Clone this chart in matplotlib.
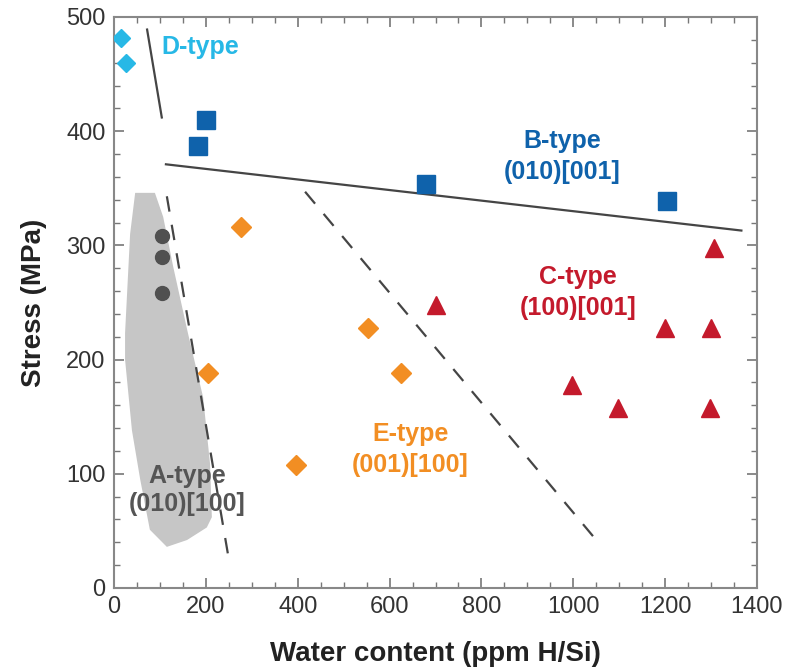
import matplotlib
matplotlib.use("Agg")
import matplotlib.pyplot as plt
from matplotlib.patches import Polygon
import matplotlib.ticker as mticker

plt.rcParams['font.family'] = ['Liberation Sans', 'DejaVu Sans']

# data
d_water  = [15, 26]
d_stress = [482, 460]
b_water  = [183, 200, 680, 1203]
b_stress = [387, 410, 354, 339]
a_water  = [105, 105, 105]
a_stress = [308, 290, 258]
e_water  = [205, 276, 396, 554, 625]
e_stress = [188, 316, 108, 228, 188]
c_water  = [700, 998, 1098, 1200, 1300, 1297, 1307]
c_stress = [248, 178, 158, 228, 228, 158, 298]

# boundary lines
b_line_x, b_line_y = [113, 1366], [371, 313]
d_line_x, d_line_y = [72, 104], [489, 412]
ae_line_x, ae_line_y = [115, 250], [343, 25]
ec_line_x, ec_line_y = [416, 1052], [347, 41]

# A-type field outline
a_field_x = [46, 89, 107, 129, 161, 194, 209, 213, 202, 159, 115, 78, 57, 39, 24, 24, 35]
a_field_y = [346, 346, 325, 281, 223, 167, 109, 62, 53, 42, 36, 51, 95, 138, 200, 223, 310]

C_D = "#27b8e6"
C_B = "#0f62ab"
C_C = "#c41a2c"
C_E = "#f28e23"
C_A = "#505050"
LINE = "#454545"

fig = plt.figure(figsize=(7.93, 6.69), dpi=100)
ax = fig.add_axes([0.1438, 0.1211, 0.8108, 0.8535])

ax.add_patch(Polygon(list(zip(a_field_x, a_field_y)), closed=True,
                     facecolor="#c6c6c6", edgecolor="none", zorder=1))

ax.plot(b_line_x, b_line_y, color=LINE, lw=1.6, zorder=2)
ax.plot(d_line_x, d_line_y, color=LINE, lw=1.6, zorder=2)
ax.plot(ae_line_x, ae_line_y, color=LINE, lw=1.6, ls=(0, (7, 6)), zorder=2)
ax.plot(ec_line_x, ec_line_y, color=LINE, lw=1.6, ls=(0, (7, 6)), zorder=2)

ax.plot(d_water, d_stress, "D", color=C_D, ms=9.5, ls="none", zorder=3)
ax.plot(b_water, b_stress, "s", color=C_B, ms=12.5, ls="none", zorder=3)
ax.plot(a_water, a_stress, "o", color=C_A, ms=10, ls="none", zorder=3)
ax.plot(e_water, e_stress, "D", color=C_E, ms=10, ls="none", zorder=3)
ax.plot(c_water, c_stress, "^", color=C_C, ms=13, ls="none", zorder=3)

kw = dict(fontsize=18, fontweight="bold", ha="center", va="center", linespacing=1.35)
ax.text(104, 474, "D-type", color=C_D, fontsize=18, fontweight="bold", ha="left", va="center")
ax.text(976, 378, "B-type\n(010)[001]", color=C_B, **kw)
ax.text(1011, 259, "C-type\n(100)[001]", color=C_C, **kw)
ax.text(645, 121, "E-type\n(001)[100]", color=C_E, **kw)
ax.text(159, 86, "A-type\n(010)[100]", color="#555555",
        **{**kw, "linespacing": 1.2})

ax.set_xlim(0, 1400)
ax.set_ylim(0, 500)
ax.xaxis.set_major_locator(mticker.MultipleLocator(200))
ax.xaxis.set_minor_locator(mticker.MultipleLocator(50))
ax.yaxis.set_major_locator(mticker.MultipleLocator(100))
ax.yaxis.set_minor_locator(mticker.MultipleLocator(20))
ax.tick_params(which="both", direction="in", top=True, right=True, color="#777777")
ax.tick_params(which="major", length=7, width=1.2, labelsize=17, pad=6, labelcolor="#333333")
ax.tick_params(which="minor", length=4, width=1)
for s in ax.spines.values():
    s.set_color("#888888")
    s.set_linewidth(1.5)

ax.set_xlabel("Water content (ppm H/Si)", fontsize=20, fontweight="bold", labelpad=16,
              color="#222222")
ax.set_ylabel("Stress (MPa)", fontsize=20, fontweight="bold", labelpad=14, color="#222222")

plt.savefig("out.png", dpi=100)
plt.close()
